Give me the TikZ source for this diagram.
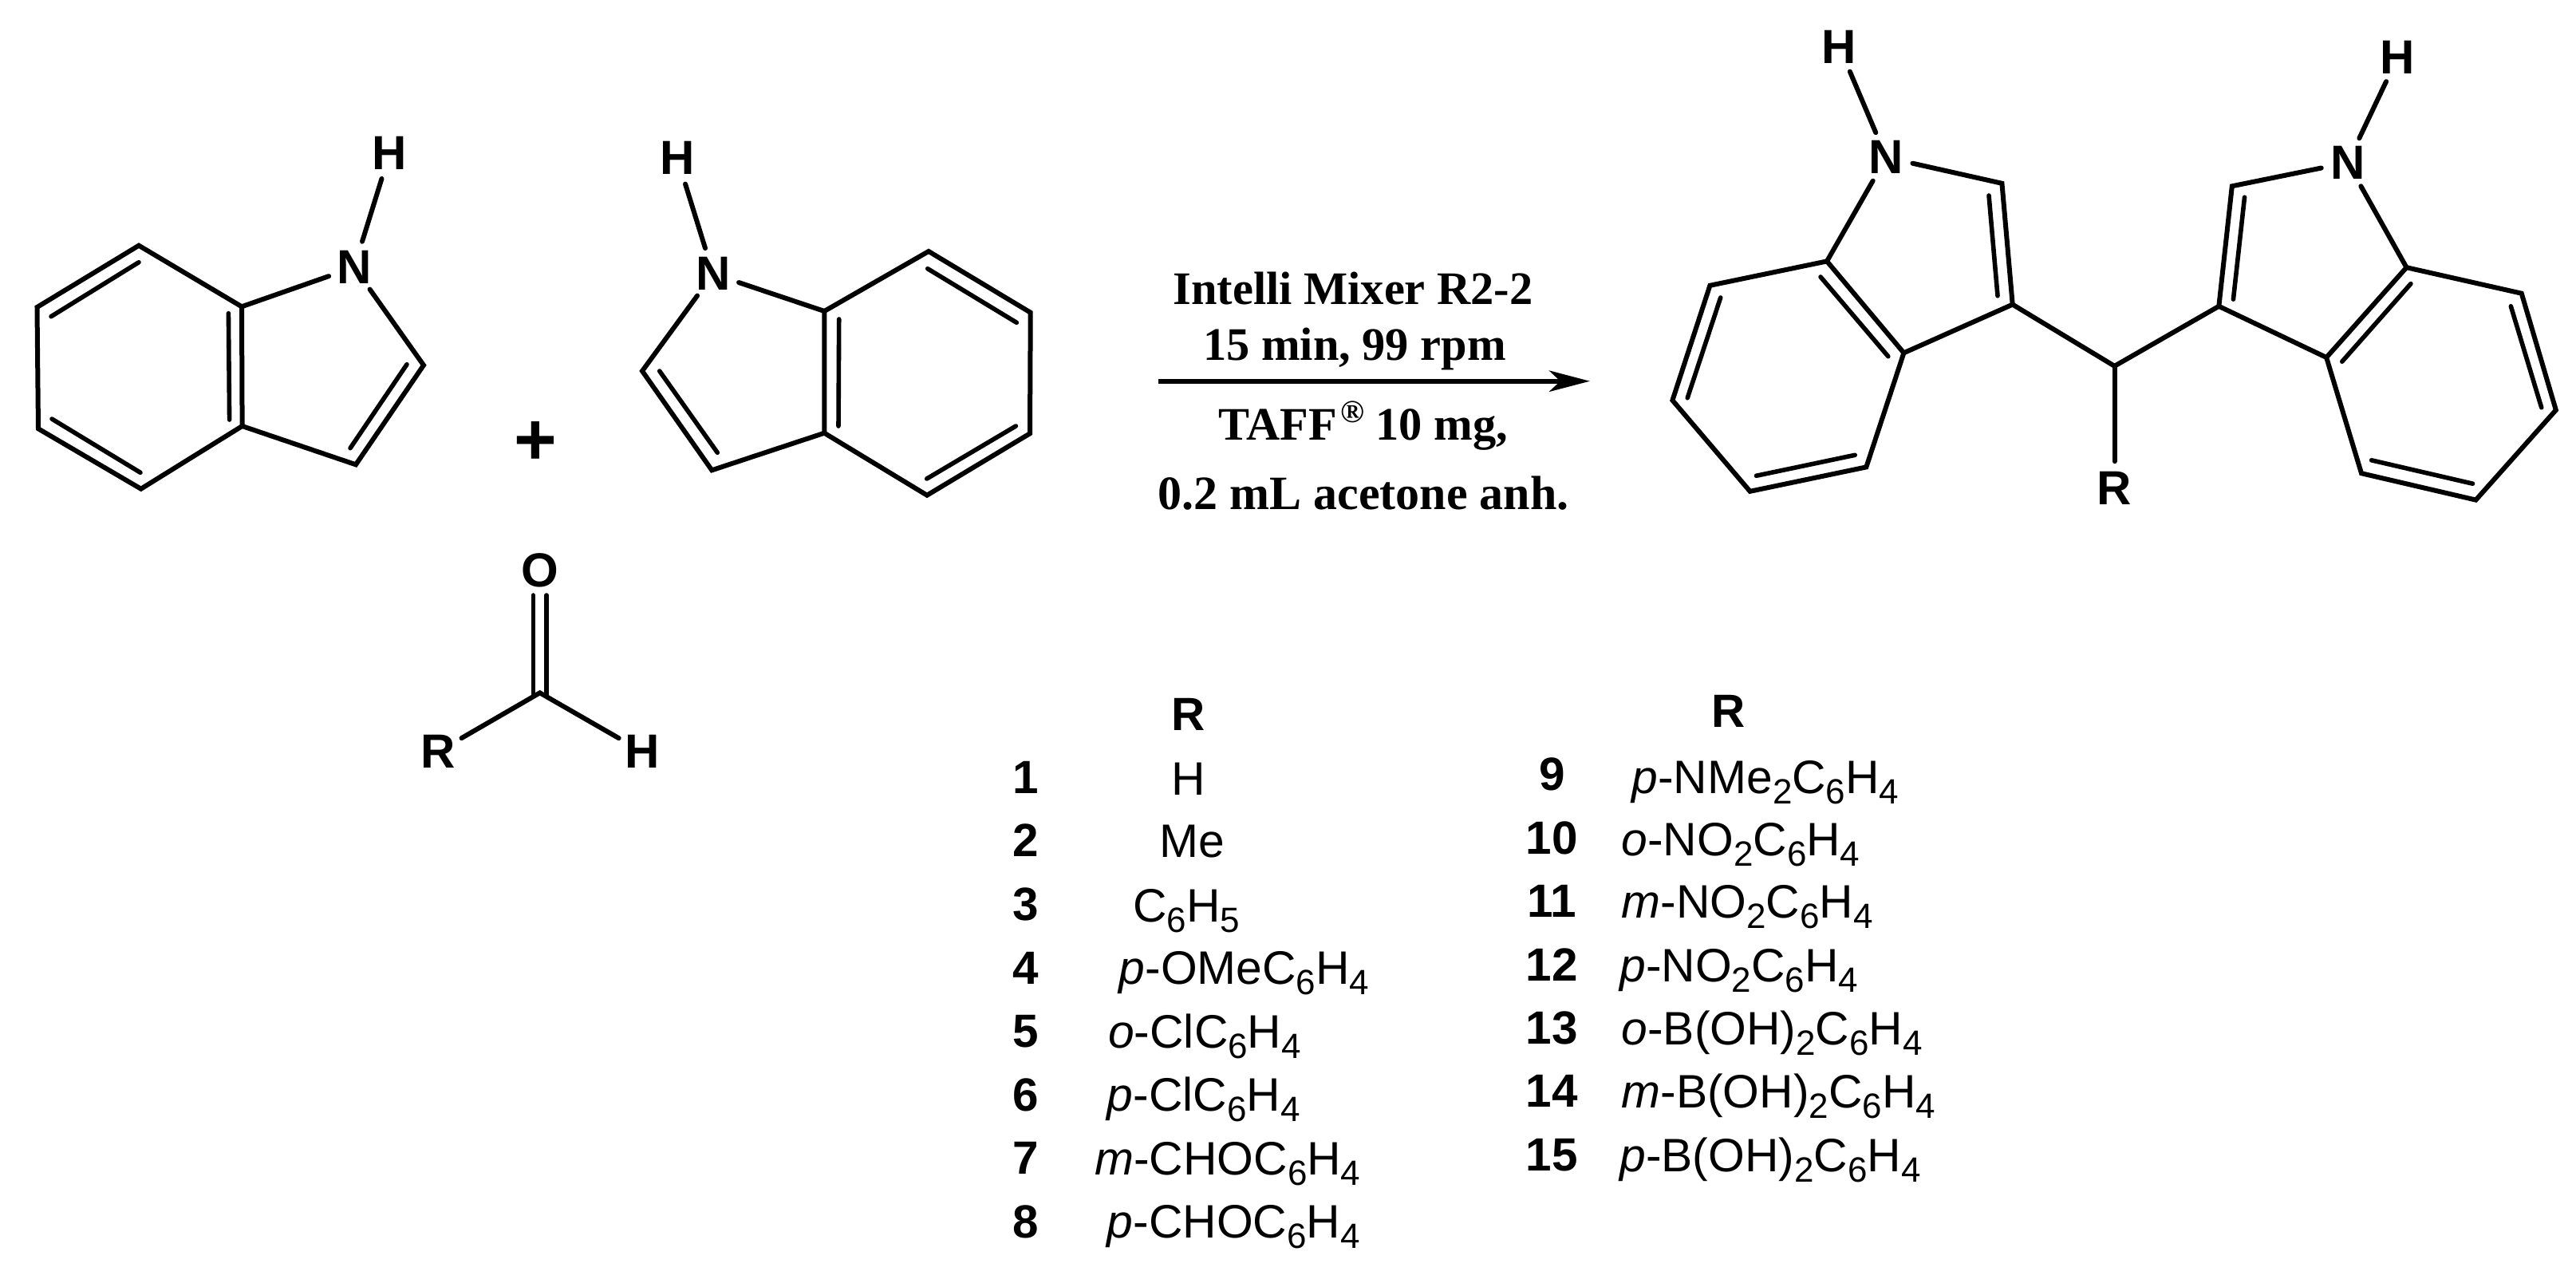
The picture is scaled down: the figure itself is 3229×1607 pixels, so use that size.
\documentclass[tikz,border=0pt]{standalone}
\usepackage{fontspec}
\usetikzlibrary{arrows.meta}
\setmainfont{Liberation Sans}
\newfontfamily\condfont{Liberation Serif}
\newcommand{\sbs}[1]{\raisebox{-3.25pt}{\fontsize{11}{11}\selectfont #1}}
\newcommand{\itl}[1]{\textit{#1}}
\newcommand{\regmark}{\hspace{1pt}\raisebox{5.5pt}{\fontsize{10}{10}\selectfont ®}}
\tikzset{
  bond/.style={line width=1.5pt,line cap=round,line join=miter,miter limit=10},
  inner/.style={line width=1.4pt,line cap=round},
  atom/.style={circle,inner sep=0pt,minimum size=16.5pt,font=\fontsize{15}{15}\bfseries\selectfont},
  cond/.style={anchor=base,inner sep=0pt,font=\fontsize{14.6}{15}\condfont\bfseries\selectfont},
  num/.style={anchor=base,inner sep=0pt,font=\fontsize{14.6}{15}\bfseries\selectfont},
  rtext/.style={anchor=base west,inner sep=0pt,font=\fontsize{14.7}{15}\selectfont},
  rmid/.style={anchor=base,inner sep=0pt,font=\fontsize{14.7}{15}\selectfont},
  plus/.style={inner sep=0pt,font=\fontsize{23}{23}\bfseries\selectfont},
  rxn/.style={line width=1.5pt,-{Stealth[length=12.75pt,width=6.6pt,inset=3.5pt]}}
}
\begin{document}
\begin{tikzpicture}[x=0.25pt,y=-0.25pt]
\fill[white] (0,0) rectangle (3229,1607);
\useasboundingbox (0,0) rectangle (3229,1607);

% --- indole 1
\coordinate (a1) at (174,307.7);
\coordinate (a2) at (46.5,385);
\coordinate (a3) at (48,537.3);
\coordinate (a4) at (176.7,612.7);
\coordinate (a5) at (303.6,534);
\coordinate (a6) at (303,384.3);
\coordinate (a7) at (531,457.7);
\coordinate (a8) at (446,582.3);
\node[atom] (aN) at (444,335) {N};
\node[atom] (aH) at (488.5,191.7) {H};
\draw[bond] (a1) -- (a2) -- (a3) -- (a4) -- (a5) -- (a6) -- cycle;
\draw[bond] (a6) -- (aN);
\draw[bond] (aN) -- (aH);
\draw[bond] (aN) -- (a7) -- (a8) -- (a5);
\coordinate (ai1) at (174,328.7); \coordinate (ai2) at (64,396.7);
\coordinate (ai3) at (65,525);    \coordinate (ai4) at (176,592.3);
\coordinate (ai5) at (286.4,392.7); \coordinate (ai6) at (287.6,526);
\coordinate (ai7) at (510,456.7); \coordinate (ai8) at (439,561.7);
\draw[inner] (ai1) -- (ai2);
\draw[inner] (ai3) -- (ai4);
\draw[inner] (ai5) -- (ai6);
\draw[inner] (ai7) -- (ai8);

\node[plus] (plusA) at (671.5,556) {+};

% --- indole 2
\coordinate (b1) at (1164,315);
\coordinate (b2) at (1291.7,391.7);
\coordinate (b3) at (1291,543.3);
\coordinate (b4) at (1162,620.7);
\coordinate (b5) at (1033.3,542.7);
\coordinate (b6) at (1033.3,390);
\coordinate (b7) at (805,465);
\coordinate (b8) at (892.3,589.3);
\node[atom] (bN) at (894,343.3) {N};
\node[atom] (bH) at (849,198.3) {H};
\draw[bond] (b1) -- (b2) -- (b3) -- (b4) -- (b5) -- (b6) -- cycle;
\draw[bond] (b6) -- (bN);
\draw[bond] (bN) -- (bH);
\draw[bond] (bN) -- (b7) -- (b8) -- (b5);
\coordinate (bi1) at (1162.7,336.7); \coordinate (bi2) at (1274.3,404.3);
\coordinate (bi3) at (1273.3,534);   \coordinate (bi4) at (1161.7,600);
\coordinate (bi5) at (1051.7,400);   \coordinate (bi6) at (1051,534);
\coordinate (bi7) at (826.7,465);    \coordinate (bi8) at (899.3,567.3);
\draw[inner] (bi1) -- (bi2);
\draw[inner] (bi3) -- (bi4);
\draw[inner] (bi5) -- (bi6);
\draw[inner] (bi7) -- (bi8);

% --- aldehyde
\coordinate (c0) at (676.7,868.3);
\node[atom] (cO) at (676.7,715) {O};
\node[atom] (cR) at (549.3,942) {R};
\node[atom] (cH) at (805,942) {H};
\coordinate (co1) at (668.3,746); \coordinate (co2) at (668.3,872);
\coordinate (co3) at (685,746);   \coordinate (co4) at (685,872);
\draw[inner] (co1) -- (co2);
\draw[inner] (co3) -- (co4);
\draw[bond] (cR) -- (c0) -- (cH);

% --- reaction arrow and conditions
\coordinate (ar1) at (1451.8,477.7);
\coordinate (ar2) at (1992.9,477.7);
\draw[rxn] (ar1) -- (ar2);
\node[cond] (t1) at (1696,381) {Intelli Mixer R2-2};
\node[cond] (t2) at (1698,451.7) {15 min, 99 rpm};
\node[cond] (t3) at (1709,551.7) {TAFF\regmark{} 10 mg,};
\node[cond,font=\fontsize{15}{15}\condfont\bfseries\selectfont] (t4) at (1709,638) {0.2 mL acetone anh.};

% --- product
\coordinate (p3) at (2522.7,381.6);
\coordinate (p2) at (2509.4,229.8);
\coordinate (p3a) at (2386.4,442.3);
\coordinate (p7a) at (2290,327.4);
\coordinate (p7) at (2143.4,357.8);
\coordinate (p6) at (2096.4,501.7);
\coordinate (p5) at (2193.6,615.8);
\coordinate (p4) at (2339.3,585.4);
\node[atom] (pN) at (2364.4,197.3) {N};
\node[atom] (pH) at (2305.6,58.5) {H};
\draw[bond] (p7a) -- (p7) -- (p6) -- (p5) -- (p4) -- (p3a) -- cycle;
\draw[bond] (p7a) -- (pN);
\draw[bond] (pN) -- (pH);
\draw[bond] (pN) -- (p2) -- (p3) -- (p3a);
\coordinate (pi1) at (2493,245);      \coordinate (pi2) at (2504,370.8);
\coordinate (pi3) at (2282,347);      \coordinate (pi4) at (2366.8,446.7);
\coordinate (pi5) at (2156.7,373);    \coordinate (pi6) at (2115.2,498.7);
\coordinate (pi7) at (2201.4,596.3);  \coordinate (pi8) at (2325.2,570.3);
\draw[inner] (pi1) -- (pi2);
\draw[inner] (pi3) -- (pi4);
\draw[inner] (pi5) -- (pi6);
\draw[inner] (pi7) -- (pi8);

\coordinate (pc) at (2650.5,458.8);
\node[atom] (pR) at (2650.5,612) {R};
\coordinate (q3) at (2781.3,383.8);
\draw[bond] (p3) -- (pc) -- (q3);
\draw[bond] (pc) -- (pR);

\coordinate (q2) at (2797.8,233.3);
\coordinate (q3a) at (2916.1,448);
\coordinate (q7a) at (3016.5,335.2);
\coordinate (q7) at (3160.7,367.7);
\coordinate (q6) at (3203.8,513.9);
\coordinate (q5) at (3103.4,626.6);
\coordinate (q4) at (2960,593.2);
\node[atom] (qN) at (2942.8,203.8) {N};
\node[atom] (qH) at (3005.5,71.6) {H};
\draw[bond] (q7a) -- (q7) -- (q6) -- (q5) -- (q4) -- (q3a) -- cycle;
\draw[bond] (q7a) -- (qN);
\draw[bond] (qN) -- (qH);
\draw[bond] (qN) -- (q2) -- (q3) -- (q3a);
\coordinate (qi1) at (2813.5,247.2);  \coordinate (qi2) at (2799.4,375.1);
\coordinate (qi3) at (3021.9,355.6);  \coordinate (qi4) at (2935.7,453.2);
\coordinate (qi5) at (3147.3,383.8);  \coordinate (qi6) at (3185.7,510.8);
\coordinate (qi7) at (2972.6,576.8);  \coordinate (qi8) at (3099.5,606.2);
\draw[inner] (qi1) -- (qi2);
\draw[inner] (qi3) -- (qi4);
\draw[inner] (qi5) -- (qi6);
\draw[inner] (qi7) -- (qi8);

% --- table, left column
\node[num] (rh1) at (1490,915.8) {R};
\node[num] (n1) at (1286,994) {1};
\node[rmid] (r1) at (1490,996.6) {H};
\node[num] (n2) at (1286,1073.9) {2};
\node[rmid] (r2) at (1494,1074.8) {Me};
\node[num] (n3) at (1286,1153) {3};
\node[rtext] (r3) at (1419.7,1155.6) {C\sbs{6}H\sbs{5}};
\node[num] (n4) at (1286,1233.8) {4};
\node[rtext] (r4) at (1402,1233.8) {\itl{p}-OMeC\sbs{6}H\sbs{4}};
\node[num] (n5) at (1286,1312) {5};
\node[rtext] (r5) at (1388.4,1313.6) {\itl{o}-ClC\sbs{6}H\sbs{4}};
\node[num] (n6) at (1286,1392.8) {6};
\node[rtext] (r6) at (1387,1392.8) {\itl{p}-ClC\sbs{6}H\sbs{4}};
\node[num] (n7) at (1286,1471) {7};
\node[rtext] (r7) at (1371.5,1472) {\itl{m}-CHOC\sbs{6}H\sbs{4}};
\node[num] (n8) at (1286,1551.8) {8};
\node[rtext] (r8) at (1387,1551.8) {\itl{p}-CHOC\sbs{6}H\sbs{4}};

% --- table, right column
\node[num] (rh2) at (2167,911) {R};
\node[num] (n9) at (1945.4,990.7) {9};
\node[rtext] (r9) at (2044.8,994) {\itl{p}-NMe\sbs{2}C\sbs{6}H\sbs{4}};
\node[num] (n10) at (1945.4,1070) {10};
\node[rtext] (r10) at (2031.8,1072.4) {\itl{o}-NO\sbs{2}C\sbs{6}H\sbs{4}};
\node[num] (n11) at (1945.4,1149) {11};
\node[rtext] (r11) at (2031.8,1150.7) {\itl{m}-NO\sbs{2}C\sbs{6}H\sbs{4}};
\node[num] (n12) at (1945.4,1229) {12};
\node[rtext] (r12) at (2029.5,1230) {\itl{p}-NO\sbs{2}C\sbs{6}H\sbs{4}};
\node[num] (n13) at (1945.4,1308) {13};
\node[rtext] (r13) at (2031.8,1309.7) {\itl{o}-B(OH)\sbs{2}C\sbs{6}H\sbs{4}};
\node[num] (n14) at (1945.4,1387) {14};
\node[rtext] (r14) at (2031.8,1388) {\itl{m}-B(OH)\sbs{2}C\sbs{6}H\sbs{4}};
\node[num] (n15) at (1945.4,1467) {15};
\node[rtext] (r15) at (2029.5,1468.7) {\itl{p}-B(OH)\sbs{2}C\sbs{6}H\sbs{4}};
\end{tikzpicture}
\end{document}
